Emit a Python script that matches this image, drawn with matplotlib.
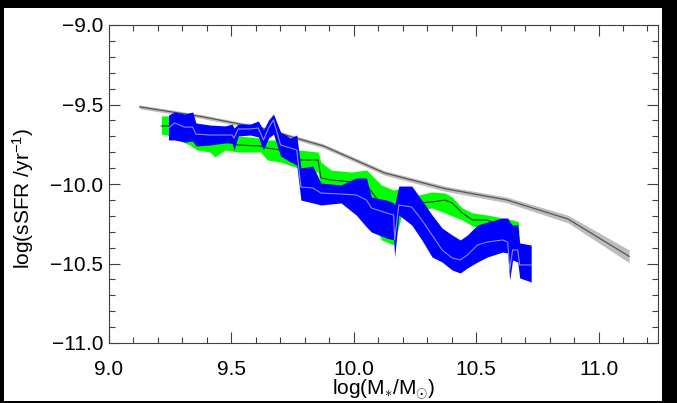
import matplotlib
matplotlib.use('Agg')
import matplotlib.pyplot as plt
import numpy as np
from matplotlib.patches import Rectangle
from matplotlib.ticker import MultipleLocator

plt.rcParams['font.family'] = ['Liberation Sans', 'DejaVu Sans']
plt.rcParams['mathtext.fontset'] = 'custom'
plt.rcParams['mathtext.rm'] = 'Liberation Sans'
plt.rcParams['mathtext.it'] = 'Liberation Sans'

# reference relation (grey)
ref_x = [9.125, 9.375, 9.625, 9.875, 10.125, 10.375, 10.625, 10.875, 11.125]
ref_y = [-9.515, -9.575, -9.65, -9.76, -9.93, -10.03, -10.10, -10.22, -10.455]
ref_err = [0.012, 0.012, 0.012, 0.013, 0.014, 0.016, 0.018, 0.024, 0.04]

# green sample: x, upper, lower, median
green_x = [9.214, 9.239, 9.330, 9.359, 9.412, 9.433, 9.474, 9.528, 9.619, 9.647,
           9.701, 9.771, 9.775, 9.854, 9.866, 9.907, 9.990, 10.052, 10.113, 10.163,
           10.196, 10.266, 10.320, 10.373, 10.402, 10.443, 10.485, 10.546, 10.608,
           10.649, 10.674]
green_hi = [-9.572, -9.572, -9.629, -9.648, -9.660, -9.673, -9.673, -9.698, -9.711, -9.723,
            -9.723, -9.774, -9.786, -9.799, -9.862, -9.912, -9.925, -9.912, -10.006, -10.038,
            -10.025, -10.069, -10.050, -10.057, -10.082, -10.151, -10.182, -10.195, -10.214,
            -10.226, -10.239]
green_lo = [-9.686, -9.692, -9.755, -9.786, -9.799, -9.830, -9.786, -9.799, -9.799, -9.849,
            -9.862, -9.899, -9.912, -9.925, -10.038, -10.050, -10.069, -10.132, -10.352, -10.384,
            -10.195, -10.164, -10.151, -10.182, -10.201, -10.226, -10.264, -10.289, -10.302,
            -10.340, -10.352]
green_med = [-9.635, -9.635, -9.692, -9.711, -9.723, -9.730, -9.730, -9.755, -9.761, -9.774,
             -9.786, -9.799, -9.849, -9.849, -9.962, -9.975, -9.987, -10.006, -10.132, -10.151,
             -10.132, -10.119, -10.113, -10.101, -10.119, -10.182, -10.226, -10.226, -10.277,
             -10.289, -10.302]

# blue sample: x, upper, lower, median
blue_x = [9.243, 9.268, 9.309, 9.342, 9.355, 9.412, 9.474, 9.503, 9.511, 9.528,
          9.577, 9.610, 9.631, 9.652, 9.672, 9.701, 9.742, 9.767, 9.784, 9.833,
          9.866, 9.948, 10.010, 10.052, 10.072, 10.134, 10.163, 10.167, 10.184, 10.237,
          10.278, 10.320, 10.361, 10.402, 10.435, 10.464, 10.505, 10.546, 10.608, 10.629,
          10.637, 10.649, 10.670, 10.678, 10.725]
blue_hi = [-9.566, -9.547, -9.560, -9.547, -9.616, -9.629, -9.635, -9.623, -9.648, -9.623,
           -9.623, -9.604, -9.660, -9.597, -9.560, -9.673, -9.711, -9.692, -9.899, -9.887,
           -9.994, -10.006, -9.962, -9.962, -10.082, -10.101, -10.119, -10.132, -10.013, -10.013,
           -10.101, -10.195, -10.277, -10.321, -10.352, -10.321, -10.258, -10.239, -10.214, -10.214,
           -10.239, -10.258, -10.258, -10.371, -10.384]
blue_lo = [-9.723, -9.723, -9.736, -9.730, -9.761, -9.755, -9.742, -9.742, -9.786, -9.698,
           -9.692, -9.704, -9.786, -9.711, -9.686, -9.824, -9.862, -9.881, -10.101, -10.119,
           -10.132, -10.119, -10.195, -10.270, -10.302, -10.340, -10.352, -10.459, -10.195, -10.258,
           -10.352, -10.459, -10.491, -10.541, -10.560, -10.528, -10.491, -10.459, -10.428, -10.434,
           -10.604, -10.478, -10.491, -10.591, -10.616]
blue_med = [-9.648, -9.616, -9.642, -9.642, -9.686, -9.692, -9.692, -9.692, -9.711, -9.654,
            -9.654, -9.648, -9.723, -9.648, -9.597, -9.755, -9.774, -9.786, -10.019, -10.025,
            -10.057, -10.063, -10.069, -10.101, -10.151, -10.182, -10.195, -10.352, -10.132, -10.145,
            -10.226, -10.321, -10.415, -10.465, -10.478, -10.447, -10.384, -10.365, -10.352, -10.365,
            -10.541, -10.415, -10.415, -10.509, -10.509]

x_ticks = [9.0, 9.5, 10.0, 10.5, 11.0]
y_ticks = [-11.0, -10.5, -10.0, -9.5, -9.0]

fig = plt.figure(figsize=(6.77, 4.03), dpi=100)
fig.patch.set_facecolor('black')
fig.patches.append(Rectangle((4 / 677, 2 / 403), 658 / 677, 393 / 403,
                             transform=fig.transFigure, facecolor='white',
                             edgecolor='none', zorder=-10))
ax = fig.add_axes([109 / 677, 1 - 343 / 403, 549 / 677, 318 / 403])

rx = np.array(ref_x)
ry = np.array(ref_y)
re = np.array(ref_err)
ax.fill_between(rx, ry - re, ry + re, color='#bdbdbd', lw=0, zorder=1)
ax.plot(rx, ry, color='#555555', lw=0.9, zorder=2)

ax.fill_between(green_x, green_lo, green_hi, color='#00ff00', lw=0, zorder=3)
ax.plot(green_x, green_med, color='#1c3a1c', lw=0.8, zorder=4)
ax.fill_between(blue_x, blue_lo, blue_hi, color='#0000ff', lw=0, zorder=5)
ax.plot(blue_x, blue_med, color='#8a8aff', lw=0.8, zorder=6)

ax.set_xlim(9.0, 11.243)
ax.set_ylim(-11.0, -9.0)
ax.set_xticks(x_ticks)
ax.set_yticks(y_ticks)
ax.xaxis.set_minor_locator(MultipleLocator(0.1))
ax.yaxis.set_minor_locator(MultipleLocator(0.1))
ax.set_xticklabels(['%.1f' % v for v in x_ticks])
ax.set_yticklabels([('%.1f' % v).replace('-', '\u2212') for v in y_ticks])
ax.tick_params(which='both', direction='in', top=True, right=True, color='#404040', width=0.8,
               labelsize=15)
ax.tick_params(axis='x', pad=12)
ax.tick_params(axis='y', pad=4)
ax.tick_params(which='major', length=8)
ax.tick_params(which='minor', length=4)
for s in ax.spines.values():
    s.set_color('#404040')
    s.set_linewidth(0.8)

ax.set_xlabel(r'log(M$_{\ast}$/M$_{\odot}$)', fontsize=15, va='top')
ax.set_ylabel(r'log(sSFR /yr$^{-1}$)', fontsize=15)
ax.xaxis.set_label_coords(0.5, -0.108)
ax.yaxis.set_label_coords(-0.133, 0.455)

fig.savefig('out.png', dpi=100, facecolor=fig.get_facecolor())
